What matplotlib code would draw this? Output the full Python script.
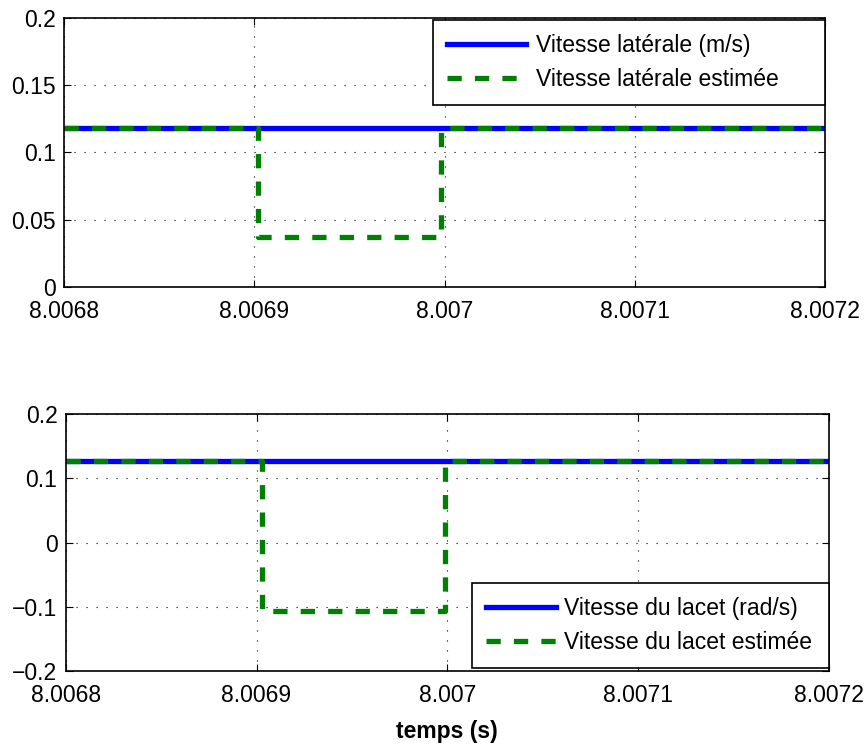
import numpy as np
import matplotlib
matplotlib.use('Agg')
import matplotlib.pyplot as plt

plt.rcParams['font.family'] = ['Liberation Sans', 'DejaVu Sans']

# ---- data ----
t_true = [8.0068, 8.0072]
vy_true = [0.118, 0.118]
t_est = [8.0068, 8.006902, 8.006902, 8.006998, 8.006998, 8.0072]
vy_est = [0.118, 0.118, 0.037, 0.037, 0.118, 0.118]

r_true = [0.127, 0.127]
t_est2 = [8.0068, 8.006903, 8.006903, 8.006999, 8.006999, 8.0072]
r_est = [0.127, 0.127, -0.106, -0.106, 0.127, 0.127]

xticks = [8.0068, 8.0069, 8.007, 8.0071, 8.0072]
xticklabels = ['8.0068', '8.0069', '8.007', '8.0071', '8.0072']
yticks_top = [0, 0.05, 0.1, 0.15, 0.2]
yticklabels_top = ['0', '0.05', '0.1', '0.15', '0.2']
yticks_bot = [-0.2, -0.1, 0, 0.1, 0.2]
yticklabels_bot = ['\u22120.2', '\u22120.1', '0', '0.1', '0.2']

BLUE = (0, 0, 1)
GREEN = (0, 0.5, 0)
FS = 16.5
LEG = dict(fontsize=FS, fancybox=False, framealpha=1, edgecolor='black',
           borderaxespad=0, mode='expand', labelspacing=0.5, borderpad=0.6)


def style(ax, yt, ytl):
    ax.set_xlim(8.0068, 8.0072)
    ax.set_xticks(xticks)
    ax.set_xticklabels(xticklabels)
    ax.set_yticks(yt)
    ax.set_yticklabels(ytl)
    ax.set_ylim(yt[0], yt[-1])
    ax.tick_params(direction='in', top=True, right=True, labelsize=FS,
                   length=5, width=0.8)
    ax.tick_params(axis='x', pad=9.5)
    ax.tick_params(axis='y', pad=6)
    ax.grid(True, color='black', linestyle=(0, (1, 8)), lw=0.8)
    for s in ax.spines.values():
        s.set_linewidth(1.2)


fig = plt.figure(figsize=(8.66, 7.49), dpi=100)
ax1 = fig.add_axes([0.074, 0.617, 0.879, 0.359])
ax2 = fig.add_axes([0.076, 0.104, 0.881, 0.343])

ax1.plot(t_true, vy_true, color=BLUE, lw=3.8, label='Vitesse latérale (m/s)')
ax1.plot(t_est, vy_est, color=GREEN, lw=3.8, dashes=(2.7, 2.5),
         label='Vitesse latérale estimée')
style(ax1, yticks_top, yticklabels_top)
leg1 = ax1.legend(loc='upper right', bbox_to_anchor=(0.485, 0, 0.515, 0.993),
                  handlelength=3.45, handletextpad=0.45, **LEG)
leg1.get_frame().set_linewidth(1.2)

ax2.plot(t_true, r_true, color=BLUE, lw=3.8, label='Vitesse du lacet (rad/s)')
ax2.plot(t_est2, r_est, color=GREEN, lw=3.8, dashes=(2.7, 2.5),
         label='Vitesse du lacet estimée')
style(ax2, yticks_bot, yticklabels_bot)
leg2 = ax2.legend(loc='lower right', bbox_to_anchor=(0.533, 0.012, 0.467, 1),
                  handlelength=3.05, handletextpad=0.35, **LEG)
leg2.get_frame().set_linewidth(1.2)
ax2.set_xlabel('temps (s)', fontsize=FS, fontweight='bold', labelpad=9)

fig.savefig('out.png', dpi=100)
